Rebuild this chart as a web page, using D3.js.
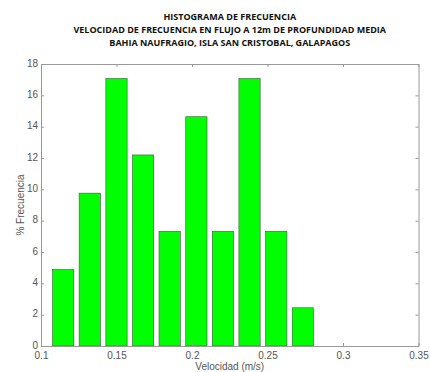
<!DOCTYPE html>
<html><head><meta charset="utf-8">
<script src="https://cdn.jsdelivr.net/npm/d3@7"></script>
<style>body{margin:0;background:#fff;}svg{display:block;}</style>
</head><body>
<script>
const titleLines = ["HISTOGRAMA DE FRECUENCIA","VELOCIDAD DE FRECUENCIA EN FLUJO A 12m DE PROFUNDIDAD MEDIA","BAHIA NAUFRAGIO, ISLA SAN CRISTOBAL, GALAPAGOS"];
const binCenters = [0.1147,0.1323,0.1500,0.1676,0.1852,0.2029,0.2205,0.2381,0.2558,0.2734];
const frecuencia = [4.878,9.756,17.073,12.195,7.317,14.634,7.317,17.073,7.317,2.439];
const xTicks = [0.1,0.15,0.2,0.25,0.3,0.35];
const yTicks = [0,2,4,6,8,10,12,14,16,18];
const xLabel = "Velocidad (m/s)";
const yLabel = "% Frecuencia";

const W=430,H=372;
const m={left:41,right:418.5,top:64,bottom:346};
const svg=d3.select("body").append("svg").attr("width",W).attr("height",H);
const x=d3.scaleLinear().domain([0.1,0.35]).range([m.left,m.right]);
const y=d3.scaleLinear().domain([0,18]).range([m.bottom,m.top]);
const pitch=binCenters[1]-binCenters[0];
const bw=x(binCenters[0]+pitch*0.4)-x(binCenters[0]-pitch*0.4);

svg.append("g").selectAll("rect").data(frecuencia).join("rect")
  .attr("x",(d,i)=>x(binCenters[i])-bw/2).attr("width",bw)
  .attr("y",d=>y(d)).attr("height",d=>y(0)-y(d))
  .attr("fill","#00ff00").attr("stroke","#3a5a3a").attr("stroke-width",0.6);

const axCol="#999", txtCol="#555";
const font="'Liberation Sans',Arial,sans-serif";
const fmt=d=>String(d);
const gx=svg.append("g").attr("transform",`translate(0,${m.bottom})`)
  .call(d3.axisBottom(x).tickValues(xTicks).tickFormat(fmt).tickSizeInner(-3).tickSizeOuter(0).tickPadding(5.5));
const gxt=svg.append("g").attr("transform",`translate(0,${m.top})`)
  .call(d3.axisTop(x).tickValues(xTicks).tickFormat("").tickSizeInner(-3).tickSizeOuter(0));
const gy=svg.append("g").attr("transform",`translate(${m.left},0)`)
  .call(d3.axisLeft(y).tickValues(yTicks).tickFormat(fmt).tickSizeInner(-3).tickSizeOuter(0).tickPadding(6));
const gyr=svg.append("g").attr("transform",`translate(${m.right},0)`)
  .call(d3.axisRight(y).tickValues(yTicks).tickFormat("").tickSizeInner(-3).tickSizeOuter(0));
[gx,gxt,gy,gyr].forEach(g=>{
  g.selectAll("path,line").attr("stroke",axCol).attr("stroke-width",1);
  g.selectAll("text").attr("fill",txtCol).style("font-family",font).style("font-size","10px");
});
gy.selectAll("text").attr("dx","3").attr("dy","0.2em");

svg.append("text").attr("x",(m.left+m.right)/2).attr("y",369.5)
  .attr("text-anchor","middle").attr("fill",txtCol)
  .style("font-family",font).style("font-size","10px").text(xLabel);
svg.append("text").attr("transform",`translate(20,${(m.top+m.bottom)/2}) rotate(-90)`)
  .attr("text-anchor","middle").attr("fill",txtCol).attr("dy","0.35em")
  .style("font-family",font).style("font-size","10px").text(yLabel);

svg.append("g").selectAll("text").data(titleLines).join("text")
  .attr("x",(m.left+m.right)/2).attr("y",(d,i)=>20+i*13)
  .attr("text-anchor","middle").attr("fill","#111")
  .style("font-family","'Open Sans',sans-serif").style("font-weight","bold").style("font-size","9px")
  .text(d=>d);
</script>
</body></html>
